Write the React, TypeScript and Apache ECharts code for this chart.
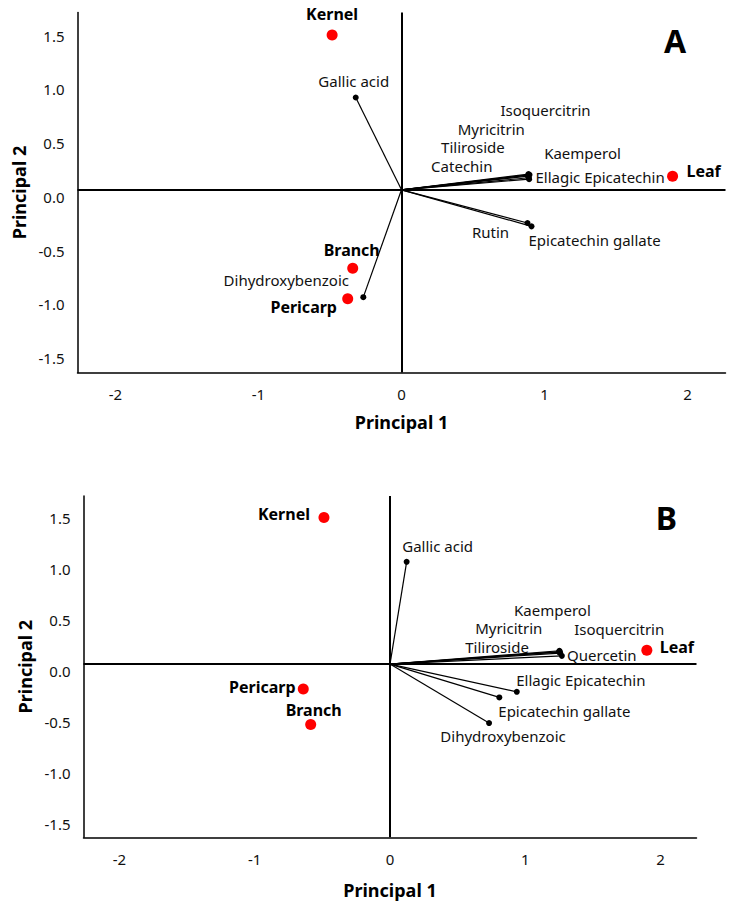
import React, { useEffect, useRef } from "react";
import * as echarts from "echarts";

// ---------- data ----------
const xTicks = [-2, -1, 0, 1, 2];
const yTicks = [-1.5, -1.0, -0.5, 0.0, 0.5, 1.0, 1.5];

// Panel A — scores (samples)
const scoreNamesA = ["Kernel", "Leaf", "Branch", "Pericarp"];
const scorePC1A = [-0.485, 1.895, -0.341, -0.376];
const scorePC2A = [1.44, 0.126, -0.729, -1.014];

// Panel A — loadings (compounds)
const loadNamesA = [
  "Isoquercitrin",
  "Myricitrin",
  "Tiliroside",
  "Catechin",
  "Kaemperol",
  "Ellagic Epicatechin",
  "Rutin",
  "Epicatechin gallate",
  "Gallic acid",
  "Dihydroxybenzoic",
];
const loadPC1A = [0.888, 0.886, 0.884, 0.89, 0.895, 0.892, 0.881, 0.909, -0.32, -0.267];
const loadPC2A = [0.146, 0.136, 0.127, 0.112, 0.14, 0.099, -0.309, -0.34, 0.859, -0.999];

// Panel B — scores
const scoreNamesB = ["Kernel", "Leaf", "Pericarp", "Branch"];
const scorePC1B = [-0.488, 1.898, -0.641, -0.586];
const scorePC2B = [1.44, 0.137, -0.245, -0.592];

// Panel B — loadings
const loadNamesB = [
  "Gallic acid",
  "Kaemperol",
  "Myricitrin",
  "Isoquercitrin",
  "Tiliroside",
  "Quercetin",
  "Ellagic Epicatechin",
  "Epicatechin gallate",
  "Dihydroxybenzoic",
];
const loadPC1B = [0.123, 1.252, 1.254, 1.258, 1.249, 1.27, 0.937, 0.808, 0.732];
const loadPC2B = [1.004, 0.131, 0.123, 0.108, 0.118, 0.081, -0.272, -0.327, -0.579];

// ---------- layout (label offsets in px, not data) ----------
const scoreLabelOffA: Record<string, number[]> = {
  Kernel: [0, -21],
  Leaf: [31, -5],
  Branch: [-1, -18],
  Pericarp: [-44, 8],
};
const loadLabelOffA: Record<string, number[]> = {
  Isoquercitrin: [17, -64],
  Myricitrin: [-37, -46],
  Tiliroside: [-55, -29],
  Catechin: [-67, -12],
  Kaemperol: [53, -22],
  "Ellagic Epicatechin": [71, -2],
  Rutin: [-37, 9],
  "Epicatechin gallate": [63, 14],
  "Gallic acid": [-2, -17],
  Dihydroxybenzoic: [-77, -17],
};
const scoreLabelOffB: Record<string, number[]> = {
  Kernel: [-40, -3],
  Leaf: [30, -3],
  Pericarp: [-41, -2],
  Branch: [3, -14],
};
const loadLabelOffB: Record<string, number[]> = {
  "Gallic acid": [31, -16],
  Kaemperol: [-7, -41],
  Myricitrin: [-51, -24],
  Isoquercitrin: [59, -24],
  Tiliroside: [-62, -5],
  Quercetin: [40, -1],
  "Ellagic Epicatechin": [64, -12],
  "Epicatechin gallate": [65, 14],
  Dihydroxybenzoic: [14, 13],
};

const FONT = "'Noto Sans', 'DejaVu Sans', sans-serif";
const X_RANGE = [-2.265, 2.265];
const Y_RANGE = [-1.7, 1.65];

function makeAxes(idx: number, nameGapX: number, nameGapY: number) {
  const x = {
    type: "value",
    gridIndex: idx,
    min: X_RANGE[0],
    max: X_RANGE[1],
    name: "Principal 1",
    nameLocation: "middle",
    nameGap: nameGapX,
    nameTextStyle: { fontFamily: FONT, fontSize: 18, fontWeight: "bold", color: "#000" },
    axisLine: { show: true, onZero: false, lineStyle: { color: "#000", width: 1.5 } },
    axisTick: { show: false },
    splitLine: { show: false },
    axisLabel: {
      customValues: xTicks,
      margin: 14,
      fontFamily: FONT,
      fontSize: 15,
      color: "#111",
      formatter: (v: number) => String(v),
    },
  };
  const y = {
    type: "value",
    gridIndex: idx,
    min: Y_RANGE[0],
    max: Y_RANGE[1],
    name: "Principal 2",
    nameLocation: "middle",
    nameRotate: 90,
    nameGap: nameGapY,
    nameTextStyle: { fontFamily: FONT, fontSize: 18, fontWeight: "bold", color: "#000" },
    axisLine: { show: true, onZero: false, lineStyle: { color: "#000", width: 1.5 } },
    axisTick: { show: false },
    splitLine: { show: false },
    axisLabel: {
      customValues: yTicks,
      margin: 13,
      verticalAlign: "top",
      lineHeight: 14,
      fontFamily: FONT,
      fontSize: 15,
      color: "#111",
      formatter: (v: number) => v.toFixed(1),
    },
  };
  return { x, y };
}

function makeSeries(
  idx: number,
  sNames: string[],
  s1: number[],
  s2: number[],
  sOff: Record<string, number[]>,
  lNames: string[],
  l1: number[],
  l2: number[],
  lOff: Record<string, number[]>
) {
  return [
    {
      type: "lines",
      coordinateSystem: "cartesian2d",
      xAxisIndex: idx,
      yAxisIndex: idx,
      silent: true,
      z: 3,
      lineStyle: { color: "#000", width: 1.2, opacity: 1 },
      data: lNames.map((_, i) => ({ coords: [[0, 0], [l1[i], l2[i]]] })),
    },
    {
      type: "scatter",
      xAxisIndex: idx,
      yAxisIndex: idx,
      symbolSize: 6,
      z: 4,
      itemStyle: { color: "#000", opacity: 1 },
      data: lNames.map((n, i) => ({
        name: n,
        value: [l1[i], l2[i]],
        label: { offset: lOff[n] || [0, 0] },
      })),
      label: {
        show: true,
        position: "inside",
        formatter: "{b}",
        fontFamily: FONT,
        fontSize: 15,
        lineHeight: 13,
        color: "#111",
      },
    },
    {
      type: "scatter",
      xAxisIndex: idx,
      yAxisIndex: idx,
      symbolSize: 11,
      z: 5,
      itemStyle: { color: "#ff0000", opacity: 1 },
      data: sNames.map((n, i) => ({
        name: n,
        value: [s1[i], s2[i]],
        label: { offset: sOff[n] || [0, 0] },
      })),
      label: {
        show: true,
        position: "inside",
        formatter: "{b}",
        fontFamily: FONT,
        fontSize: 16,
        fontWeight: "bold",
        color: "#000",
      },
      markLine: {
        silent: true,
        symbol: "none",
        label: { show: false },
        z: 2,
        lineStyle: { color: "#000", width: 2, type: "solid" },
        data: [{ xAxis: 0 }, { yAxis: 0 }],
      },
    },
  ];
}

export default function App() {
  const ref = useRef<HTMLDivElement>(null);
  useEffect(() => {
    if (!ref.current) return;
    const chart = echarts.init(ref.current, undefined, { renderer: "svg" });
    const a = makeAxes(0, 40, 46);
    const b = makeAxes(1, 44, 43);
    chart.setOption({
      animation: false,
      backgroundColor: "#fff",
      textStyle: { fontFamily: FONT },
      grid: [
        { left: 77.5, top: 12.5, width: 648, height: 360 },
        { left: 83.5, top: 496, width: 613, height: 341.3 },
      ],
      xAxis: [a.x, b.x],
      yAxis: [a.y, b.y],
      graphic: [
        {
          type: "text",
          x: 675,
          y: 40,
          style: {
            text: "A",
            fontFamily: FONT,
            fontSize: 32,
            fontWeight: "bold",
            fill: "#000",
            align: "center",
            verticalAlign: "middle",
          },
        },
        {
          type: "text",
          x: 666.5,
          y: 517,
          style: {
            text: "B",
            fontFamily: FONT,
            fontSize: 32,
            fontWeight: "bold",
            fill: "#000",
            align: "center",
            verticalAlign: "middle",
          },
        },
      ],
      series: [
        ...makeSeries(0, scoreNamesA, scorePC1A, scorePC2A, scoreLabelOffA, loadNamesA, loadPC1A, loadPC2A, loadLabelOffA),
        ...makeSeries(1, scoreNamesB, scorePC1B, scorePC2B, scoreLabelOffB, loadNamesB, loadPC1B, loadPC2B, loadLabelOffB),
      ],
    });
    return () => chart.dispose();
  }, []);
  return (
    <div
      ref={ref}
      style={{ position: "absolute", left: 0, top: 0, width: 729, height: 912, background: "#fff" }}
    />
  );
}
